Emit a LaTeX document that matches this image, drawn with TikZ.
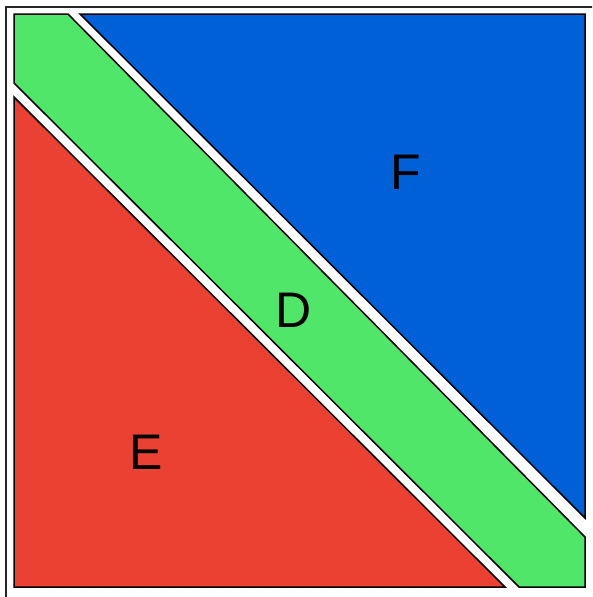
\documentclass[tikz,border=0pt]{standalone}
\usepackage{fontspec}
\setmainfont{Liberation Sans}
\definecolor{gfill}{RGB}{80,230,106}
\definecolor{rfill}{RGB}{234,65,50}
\definecolor{bfill}{RGB}{0,96,216}
\tikzset{
  region/.style={draw=black, line width=1.5pt, line join=miter},
  lab/.style={font=\fontsize{50}{50}\selectfont, text=black, inner sep=0pt}
}
\begin{document}
\begin{tikzpicture}[x=1pt,y=-1pt]
\useasboundingbox (0,0) rectangle (592,597);
\fill[white] (0,0) rectangle (592,597);
\begin{scope}
\clip (0,0) rectangle (592,597);
\draw[black!85, line width=1.6pt] (6,7) rectangle (600,605);
\end{scope}
\filldraw[region, fill=gfill] (14,14) -- (68,14) -- (585,537) -- (585,587) -- (519,587) -- (14,83) -- cycle;
\filldraw[region, fill=rfill] (14,97) -- (505,587) -- (14,587) -- cycle;
\filldraw[region, fill=bfill] (80,14) -- (585,14) -- (585,518) -- cycle;
\node[lab] (F) at (406,172) {F};
\node[lab] (D) at (294,310) {D};
\node[lab] (E) at (146,452) {E};
\end{tikzpicture}
\end{document}
